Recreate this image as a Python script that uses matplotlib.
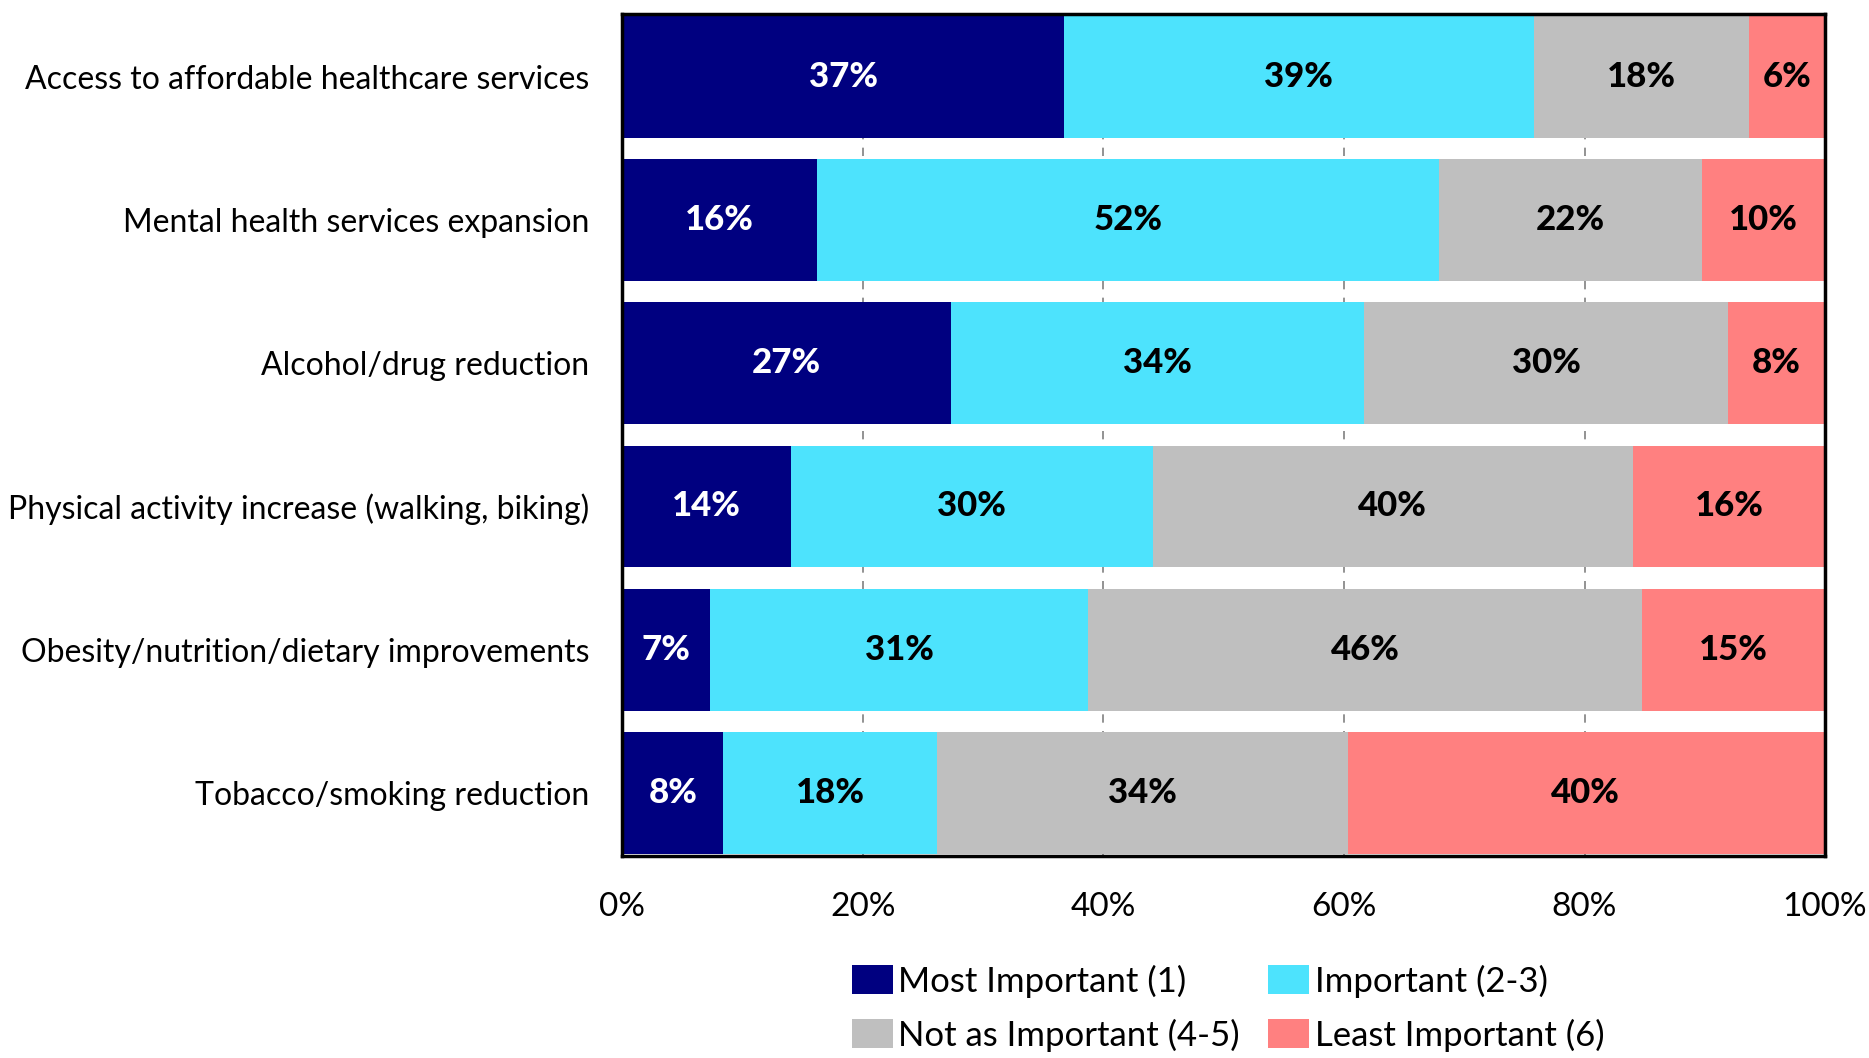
import matplotlib
matplotlib.use("Agg")
import matplotlib.pyplot as plt
from matplotlib.patches import Patch
import numpy as np

plt.rcParams['font.family'] = ['Lato', 'DejaVu Sans']

categories = [
    "Access to affordable healthcare services",
    "Mental health services expansion",
    "Alcohol/drug reduction",
    "Physical activity increase (walking, biking)",
    "Obesity/nutrition/dietary improvements",
    "Tobacco/smoking reduction",
]
series_names = ["Most Important (1)", "Important (2-3)", "Not as Important (4-5)", "Least Important (6)"]
most_important = [36.7, 16.2, 27.3, 14.0, 7.3, 8.4]
important = [39.1, 51.7, 34.4, 30.1, 31.4, 17.8]
not_as_important = [17.9, 21.9, 30.2, 39.9, 46.1, 34.1]
least_important = [6.3, 10.2, 8.1, 16.0, 15.2, 39.6]
tick_values = [0, 20, 40, 60, 80, 100]
tick_labels = ["0%", "20%", "40%", "60%", "80%", "100%"]

colors = ["#000080", "#4DE3FD", "#BFBFBF", "#FF8080"]
text_colors = ["white", "black", "black", "black"]

fig = plt.figure(figsize=(18.69, 10.58), dpi=100)
ax = fig.add_axes([0.333, 0.191, 0.6435, 0.796])

y = np.arange(len(categories))
left = np.zeros(len(categories))
handles = []
for vals, col, tcol, name in zip([most_important, important, not_as_important, least_important],
                                 colors, text_colors, series_names):
    vals = np.array(vals)
    ax.barh(y, vals, left=left, height=0.85, color=col, zorder=2)
    for yi, l, v in zip(y, left, vals):
        ax.text(l + v / 2, yi, f"{round(v):.0f}%", ha="center", va="center",
                color=tcol, fontsize=25, fontweight="black", zorder=3)
    left = left + vals
    handles.append(Patch(facecolor=col, label=name))

ax.set_xlim(0, 100)
ax.set_ylim(len(categories) - 1 + 0.44, -0.44)
ax.set_xticks(tick_values)
ax.set_xticklabels(tick_labels, fontsize=24)
ax.set_yticks(y)
ax.set_yticklabels(categories, fontsize=23)
ax.tick_params(axis="both", length=0)
ax.tick_params(axis="x", pad=26)
ax.tick_params(axis="y", pad=24)
ax.xaxis.grid(True, linestyle=(0, (5, 5)), color="#808080", linewidth=1.2, zorder=0)
ax.set_axisbelow(True)
for s in ax.spines.values():
    s.set_linewidth(2.5)
    s.set_color("black")

order = [0, 2, 1, 3]
fig.legend([handles[i] for i in order], [series_names[i] for i in order],
           ncol=2, loc="center", bbox_to_anchor=(0.657, 0.047), frameon=False,
           fontsize=25, handlelength=1.2, handleheight=0.9, handletextpad=0.15,
           columnspacing=0.8, labelspacing=0.6, borderaxespad=0)

fig.savefig("out.png", dpi=100)
